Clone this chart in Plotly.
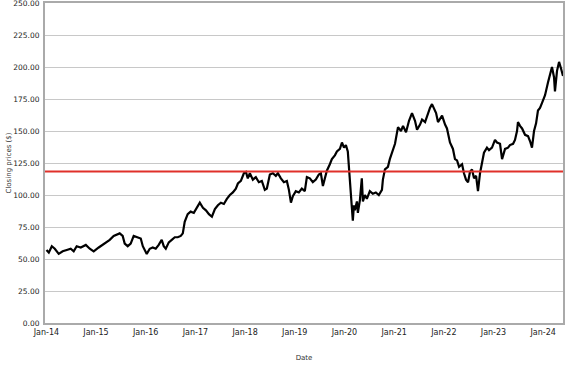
import plotly.graph_objects as go

# Closing prices
dates = [
    "2014-01-02", "2014-01-19", "2014-02-10", "2014-03-04", "2014-04-02", "2014-05-01", "2014-05-31",
    "2014-06-29", "2014-07-21", "2014-08-12", "2014-09-11", "2014-10-18", "2014-11-16", "2014-12-15",
    "2015-01-21", "2015-02-19", "2015-03-13", "2015-04-12", "2015-05-11", "2015-06-02", "2015-06-24",
    "2015-07-16", "2015-07-31", "2015-08-22", "2015-09-13", "2015-10-05", "2015-11-04", "2015-11-26",
    "2015-12-11", "2015-12-26",
    "2016-01-09", "2016-01-31", "2016-02-22", "2016-03-15", "2016-04-06", "2016-04-28", "2016-05-13",
    "2016-05-28", "2016-06-19", "2016-07-11", "2016-08-02", "2016-08-24", "2016-09-15", "2016-09-30",
    "2016-10-14", "2016-11-05", "2016-11-27", "2016-12-20",
    "2017-01-19", "2017-02-02", "2017-02-25", "2017-03-19", "2017-04-10", "2017-05-02", "2017-05-24",
    "2017-06-15", "2017-07-07", "2017-07-29", "2017-08-20", "2017-09-11", "2017-10-03", "2017-10-25",
    "2017-11-09", "2017-12-01", "2017-12-23",
    "2018-01-07", "2018-01-21", "2018-02-05", "2018-02-27", "2018-03-21", "2018-04-12", "2018-05-04",
    "2018-05-26", "2018-06-10", "2018-07-02", "2018-07-24", "2018-08-15", "2018-08-30", "2018-09-21",
    "2018-10-13", "2018-11-04", "2018-11-19", "2018-12-04", "2018-12-18",
    "2019-01-09", "2019-01-31", "2019-02-22", "2019-03-16", "2019-03-31", "2019-04-22", "2019-05-14",
    "2019-06-05", "2019-06-27", "2019-07-12", "2019-07-27", "2019-08-10", "2019-08-25", "2019-09-16",
    "2019-10-01", "2019-10-23", "2019-11-07", "2019-11-29", "2019-12-14", "2019-12-29",
    "2020-01-12", "2020-01-26", "2020-02-03", "2020-02-18", "2020-02-25", "2020-03-03", "2020-03-11",
    "2020-03-18", "2020-04-02", "2020-04-09", "2020-04-24", "2020-05-08", "2020-05-16", "2020-05-31",
    "2020-06-14", "2020-07-06", "2020-07-28", "2020-08-19", "2020-09-10", "2020-10-03", "2020-10-10",
    "2020-10-25", "2020-11-16", "2020-11-30", "2020-12-15",
    "2021-01-07", "2021-01-29", "2021-02-20", "2021-03-07", "2021-03-29", "2021-04-20", "2021-05-12",
    "2021-06-03", "2021-06-18", "2021-07-10", "2021-07-25", "2021-08-16", "2021-09-07", "2021-09-21",
    "2021-10-06", "2021-10-21", "2021-11-05", "2021-11-19", "2021-12-04", "2021-12-19",
    "2022-01-10", "2022-01-24", "2022-02-15", "2022-03-09", "2022-03-24", "2022-04-08", "2022-04-23",
    "2022-05-15", "2022-05-29", "2022-06-13", "2022-06-28", "2022-07-12", "2022-07-27", "2022-08-11",
    "2022-08-26", "2022-09-09", "2022-09-24", "2022-10-09", "2022-10-23", "2022-11-14", "2022-11-29",
    "2022-12-21",
    "2023-01-12", "2023-01-27", "2023-02-18", "2023-03-05", "2023-03-27", "2023-04-18", "2023-05-02",
    "2023-05-25", "2023-06-08", "2023-06-23", "2023-06-30", "2023-07-15", "2023-07-30", "2023-08-21",
    "2023-09-12", "2023-09-27", "2023-10-11", "2023-10-26", "2023-11-10", "2023-11-24", "2023-12-09",
    "2023-12-24",
    "2024-01-15", "2024-02-06", "2024-02-20", "2024-03-06", "2024-03-21", "2024-03-28", "2024-04-12",
    "2024-04-27", "2024-05-11", "2024-05-26",
]

closing_prices = [
    57, 55, 60, 58, 54, 56, 57,
    58, 56, 60, 59, 61, 58, 56,
    59, 61, 63, 65, 68, 69, 70,
    68, 62, 60, 62, 68, 67, 66,
    60, 57,
    54, 58, 59, 58, 61, 65, 60,
    58, 63, 65, 67, 67, 68, 70,
    79, 85, 87, 86,
    92, 94, 90, 88, 85, 83, 89,
    92, 94, 93, 97, 100, 102, 105,
    109, 111, 117,
    118, 113, 117, 112, 114, 110, 111,
    104, 105, 116, 117, 115, 117, 113,
    110, 111, 104, 94, 99,
    103, 102, 105, 103, 114, 113, 110,
    112, 116, 117, 107, 112, 119, 124,
    128, 131, 134, 136, 141, 137,
    139, 134, 120, 100, 90, 80, 92,
    88, 95, 86, 96, 113, 95, 100,
    97, 103, 101, 102, 100, 104, 112,
    120, 122, 128, 133,
    140, 153, 150, 154, 149, 158, 164,
    158, 151, 155, 159, 157, 164, 168,
    171, 168, 164, 157, 160, 162,
    155, 152, 141, 136, 128, 127, 122,
    124, 117, 112, 110, 118, 120, 113,
    115, 103, 117, 125, 133, 137, 135,
    137,
    143, 141, 140, 128, 136, 137, 139,
    140, 143, 150, 157, 154, 152, 147,
    146, 142, 137, 150, 156, 166, 168,
    172,
    178, 188, 195, 200, 192, 181, 197,
    204, 199, 193,
]

reference_level = 118.4
y_ticks = [0, 25, 50, 75, 100, 125, 150, 175, 200, 225, 250]
x_start, x_end = "2013-12-22", "2024-05-26"

font_family = "DejaVu Sans, Verdana, sans-serif"

fig = go.Figure()
fig.add_trace(go.Scatter(
    x=dates, y=closing_prices, mode="lines",
    line=dict(color="black", width=2.2),
    showlegend=False,
))
fig.add_trace(go.Scatter(
    x=[x_start, x_end], y=[reference_level, reference_level], mode="lines",
    line=dict(color="#e0302a", width=2),
    showlegend=False,
))

fig.update_layout(
    width=577, height=367,
    margin=dict(l=45, r=14, t=3, b=44, autoexpand=False),
    paper_bgcolor="white", plot_bgcolor="white",
    font=dict(family=font_family, size=8, color="#333333"),
    xaxis=dict(
        type="date", range=[x_start, x_end], automargin=False,
        tickformat="%b-%y", dtick="M12", tick0="2014-01-01",
        showgrid=False, zeroline=False,
        showline=True, linecolor="#aaaaaa", linewidth=2, mirror=True,
        ticks="", ticklabelstandoff=0,
        tickfont=dict(size=8, color="#222222"),
        title=dict(text="Date", font=dict(size=7, color="#333333"), standoff=20),
    ),
    yaxis=dict(
        range=[0, 250], tickvals=y_ticks, tickformat=".2f", automargin=False,
        ticklabeloverflow="allow",
        showgrid=True, gridcolor="#c8c8c8", gridwidth=1,
        zeroline=False,
        showline=True, linecolor="#aaaaaa", linewidth=2, mirror=True,
        ticks="", ticklabelstandoff=2,
        tickfont=dict(size=7.5, color="#222222"),
        title=dict(text="Closing prices ($)", font=dict(size=7, color="#333333"), standoff=0),
    ),
)

fig.write_html("out.html", post_script="document.body.style.margin='0';",
               config={"displayModeBar": False})
